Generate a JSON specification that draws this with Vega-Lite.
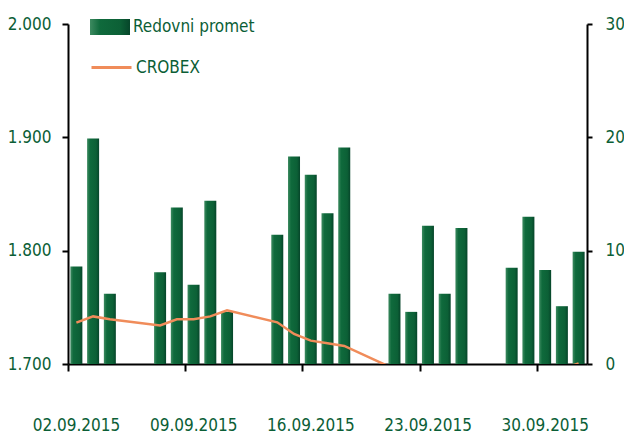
{
  "$schema": "https://vega.github.io/schema/vega-lite/v6.json",
  "width": 519,
  "height": 340,
  "autosize": {"type": "none"},
  "padding": {"left": 68, "top": 24, "right": 37, "bottom": 76},
  "background": "white",
  "config": {
    "view": {"stroke": null},
    "font": "DejaVu Sans Condensed, Liberation Sans, sans-serif",
    "axis": {"grid": false, "domainColor": "black", "tickColor": "black", "domainWidth": 2, "tickWidth": 2, "labelColor": "#0b5e36", "labelFontSize": 17, "labelFont": "DejaVu Sans Condensed, Liberation Sans, sans-serif", "titleColor": "#0b5e36"},
    "legend": {"labelColor": "#0b5e36", "labelFontSize": 17, "labelFont": "DejaVu Sans Condensed, Liberation Sans, sans-serif"}
  },
  "data": {
    "values": [
      {"date": "2015-09-02", "promet": 8.6, "crobex": 1.7365},
      {"date": "2015-09-03", "promet": 19.9, "crobex": 1.742},
      {"date": "2015-09-04", "promet": 6.2, "crobex": 1.7395},
      {"date": "2015-09-07", "promet": 8.1, "crobex": 1.734},
      {"date": "2015-09-08", "promet": 13.8, "crobex": 1.7395},
      {"date": "2015-09-09", "promet": 7.0, "crobex": 1.7395},
      {"date": "2015-09-10", "promet": 14.4, "crobex": 1.742},
      {"date": "2015-09-11", "promet": 4.6, "crobex": 1.7474},
      {"date": "2015-09-14", "promet": 11.4, "crobex": 1.7368},
      {"date": "2015-09-15", "promet": 18.3, "crobex": 1.7265},
      {"date": "2015-09-16", "promet": 16.7, "crobex": 1.7206},
      {"date": "2015-09-17", "promet": 13.3, "crobex": 1.7183},
      {"date": "2015-09-18", "promet": 19.1, "crobex": 1.7159},
      {"date": "2015-09-21", "promet": 6.2, "crobex": 1.6956},
      {"date": "2015-09-22", "promet": 4.6, "crobex": 1.69},
      {"date": "2015-09-23", "promet": 12.2, "crobex": 1.688},
      {"date": "2015-09-24", "promet": 6.2, "crobex": 1.685},
      {"date": "2015-09-25", "promet": 12.0, "crobex": 1.686},
      {"date": "2015-09-28", "promet": 8.5, "crobex": 1.684},
      {"date": "2015-09-29", "promet": 13.0, "crobex": 1.68},
      {"date": "2015-09-30", "promet": 8.3, "crobex": 1.685},
      {"date": "2015-10-01", "promet": 5.1, "crobex": 1.6956},
      {"date": "2015-10-02", "promet": 9.9, "crobex": 1.7005}
    ]
  },
  "encoding": {
    "x": {
      "field": "date",
      "timeUnit": "utcyearmonthdate",
      "type": "temporal",
      "bandPosition": 0.5,
      "scale": {"type": "utc", "domain": [{"year": 2015, "month": 9, "date": 2, "utc": true}, {"year": 2015, "month": 10, "date": 3, "utc": true}]},
      "axis": {
        "title": null,
        "values": [
          {"year": 2015, "month": 9, "date": 2, "utc": true},
          {"year": 2015, "month": 9, "date": 9, "utc": true},
          {"year": 2015, "month": 9, "date": 16, "utc": true},
          {"year": 2015, "month": 9, "date": 23, "utc": true},
          {"year": 2015, "month": 9, "date": 30, "utc": true}
        ],
        "format": "%d.%m.%Y",
        "tickSize": 7,
        "labelOffset": 8,
        "labelPadding": 46,
        "labelFlush": false,
        "labelOverlap": false
      }
    }
  },
  "layer": [
    {
      "mark": {
        "type": "bar",
        "width": 12,
        "strokeWidth": 0,
        "fill": {"gradient": "linear", "x1": 0, "x2": 1, "y1": 0, "y2": 0, "stops": [{"offset": 0, "color": "#3d8a60"}, {"offset": 0.25, "color": "#0f6a3c"}, {"offset": 0.75, "color": "#0c6036"}, {"offset": 1, "color": "#06452a"}]}
      },
      "encoding": {
        "y": {"field": "promet", "type": "quantitative", "scale": {"domain": [0, 30]}, "axis": {"orient": "right", "title": null, "values": [0, 10, 20, 30], "tickSize": 5, "labelPadding": 13, "labelFlush": false}},
        "stroke": {"datum": "Redovni promet", "type": "nominal", "scale": {"range": ["#0d6a3c"]}, "legend": {"orient": "none", "legendX": 22, "legendY": -17, "title": null, "symbolType": "M-1,-0.4H1V0.4H-1Z", "symbolSize": 1600, "symbolStrokeWidth": 0, "symbolFillColor": "#0d6a3c", "symbolOpacity": 1, "labelOffset": 3}}
      }
    },
    {
      "mark": {"type": "line", "color": "#f08c5a", "strokeWidth": 2.5, "clip": true},
      "encoding": {
        "y": {"field": "crobex", "type": "quantitative", "scale": {"domain": [1.7, 2.0], "zero": false, "nice": false}, "axis": {"orient": "left", "title": null, "values": [1.7, 1.8, 1.9, 2.0], "format": ".3f", "tickSize": 6, "labelPadding": 11, "labelFlush": false}},
        "color": {"datum": "CROBEX", "type": "nominal", "scale": {"range": ["#f08c5a"]}, "legend": {"orient": "none", "legendX": 22, "legendY": 22, "title": null, "symbolType": "stroke", "symbolSize": 1600, "symbolStrokeWidth": 3, "labelOffset": 3}}
      }
    }
  ],
  "resolve": {"scale": {"y": "independent", "color": "independent", "stroke": "independent"}}
}
